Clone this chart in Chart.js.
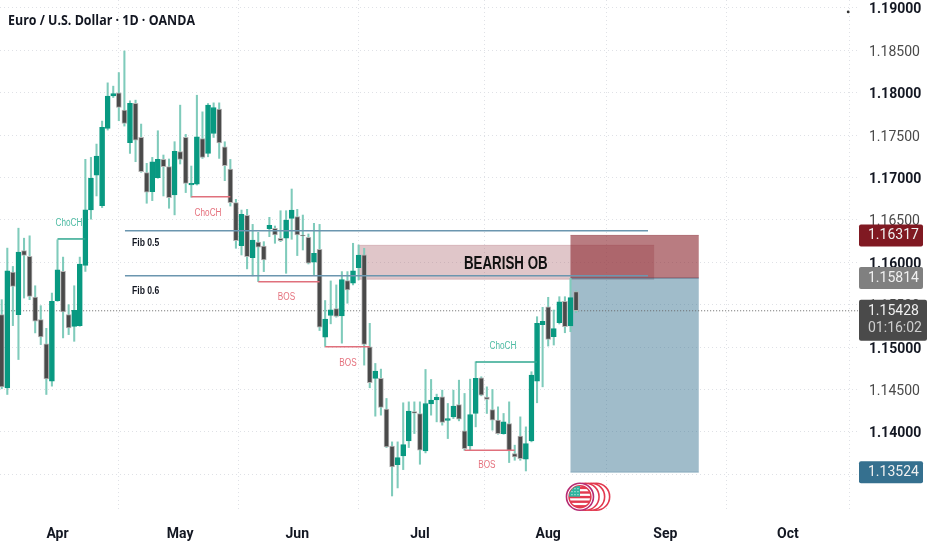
<!DOCTYPE html>
<html>
<head>
<meta charset="utf-8">
<title>EURUSD 1D</title>
<style>
  html, body { margin: 0; padding: 0; background: #fff; }
  canvas { display: block; }
</style>
<script src="https://cdn.jsdelivr.net/npm/chart.js@4/dist/chart.umd.min.js"></script>
</head>
<body>
<canvas id="chart" width="932" height="550"></canvas>
<script>
// ============================
// Data
// bar day: 0 = 1 Apr, first bar sits 10 sessions earlier
// ============================
const FIRST_BAR = -10;

const opens = [
  1.15382, 1.14519, 1.15884, 1.15382, 1.16139, 1.16069, 1.15590, 1.15323, 1.15037, 1.14598,
  1.15547, 1.15892, 1.15382, 1.15245, 1.15253, 1.15963, 1.16618, 1.17026, 1.16669, 1.17579,
  1.17963, 1.17998, 1.17794, 1.17410, 1.17873, 1.17473, 1.17057, 1.16833, 1.16998, 1.17214,
  1.17128, 1.16794, 1.17304, 1.17473, 1.16912, 1.16922, 1.17460, 1.17283, 1.17519, 1.17806,
  1.17362, 1.17099, 1.16703, 1.16196, 1.16553, 1.16055, 1.16239, 1.16192, 1.16396, 1.16400,
  1.16283, 1.16283, 1.16518, 1.16538, 1.16322, 1.16294, 1.16000, 1.16153, 1.15117, 1.15372,
  1.15454, 1.15368, 1.15784, 1.15753, 1.15937, 1.16087, 1.15004, 1.14630, 1.14630, 1.14268,
  1.13831, 1.13614, 1.13717, 1.13894, 1.14240, 1.14217, 1.13776, 1.14331, 1.14378, 1.14413,
  1.14134, 1.14177, 1.14323, 1.14012, 1.13835, 1.14217, 1.14638, 1.14409, 1.14264, 1.14138,
  1.13980, 1.14098, 1.13744, 1.13949, 1.13677, 1.13894, 1.14598, 1.15264, 1.15476, 1.15122,
  1.15287, 1.15539, 1.15248, 1.15654
];
const highs = [
  1.15559, 1.16167, 1.15951, 1.16402, 1.16284, 1.16312, 1.15723, 1.15488, 1.15221, 1.15637,
  1.16265, 1.16061, 1.15500, 1.15723, 1.16061, 1.17214, 1.17237, 1.17394, 1.17665, 1.18116,
  1.18077, 1.18237, 1.18492, 1.17904, 1.17912, 1.17630, 1.17167, 1.17237, 1.17551, 1.17265,
  1.17218, 1.17422, 1.17853, 1.17508, 1.17135, 1.17970, 1.17774, 1.17872, 1.17880, 1.17880,
  1.17421, 1.17213, 1.16742, 1.16616, 1.16624, 1.16447, 1.16353, 1.16243, 1.16530, 1.16428,
  1.16608, 1.16608, 1.16864, 1.16624, 1.16557, 1.16334, 1.16459, 1.16447, 1.15549, 1.15780,
  1.15733, 1.15890, 1.15890, 1.16224, 1.16204, 1.16165, 1.15280, 1.14807, 1.14740, 1.14394,
  1.13882, 1.13882, 1.14343, 1.14354, 1.14354, 1.14354, 1.14736, 1.14618, 1.14445, 1.14492,
  1.14335, 1.14492, 1.14610, 1.14453, 1.14622, 1.14827, 1.14650, 1.14531, 1.14500, 1.14295,
  1.14217, 1.14354, 1.13843, 1.14177, 1.14059, 1.14709, 1.15358, 1.15469, 1.15587, 1.15437,
  1.15594, 1.15594, 1.15811, 1.15665
];
const lows = [
  1.14508, 1.14441, 1.15253, 1.14853, 1.15578, 1.15559, 1.15167, 1.15029, 1.14441, 1.14539,
  1.15539, 1.15108, 1.15147, 1.15068, 1.15245, 1.15892, 1.16508, 1.16782, 1.16645, 1.17559,
  1.17943, 1.17669, 1.17606, 1.17284, 1.17186, 1.17061, 1.16696, 1.16727, 1.16990, 1.16782,
  1.16637, 1.16559, 1.17159, 1.16822, 1.16767, 1.16911, 1.17225, 1.17244, 1.17472, 1.17225,
  1.16962, 1.16663, 1.16165, 1.16086, 1.15922, 1.15839, 1.15772, 1.15890, 1.16302, 1.16224,
  1.16243, 1.15870, 1.16271, 1.16079, 1.16145, 1.15980, 1.15851, 1.15195, 1.15007, 1.15274,
  1.15352, 1.15046, 1.15517, 1.15733, 1.15792, 1.14787, 1.14520, 1.14185, 1.14197, 1.13815,
  1.13244, 1.13339, 1.13555, 1.13815, 1.13980, 1.13618, 1.13752, 1.14197, 1.14118, 1.14079,
  1.13921, 1.14157, 1.14130, 1.13783, 1.13783, 1.14059, 1.14425, 1.14217, 1.14020, 1.13972,
  1.13972, 1.13638, 1.13665, 1.13665, 1.13539, 1.13882, 1.14343, 1.14531, 1.15012, 1.15024,
  1.15272, 1.15169, 1.15181, 1.15406
];
const closes = [
  1.14531, 1.15900, 1.15716, 1.16120, 1.16080, 1.15598, 1.15304, 1.15119, 1.14625, 1.15539,
  1.15912, 1.15414, 1.15225, 1.15433, 1.15978, 1.16618, 1.16990, 1.17253, 1.17590, 1.17959,
  1.17990, 1.17826, 1.17637, 1.17873, 1.17441, 1.17069, 1.16826, 1.17186, 1.17214, 1.17128,
  1.16763, 1.17308, 1.17214, 1.16931, 1.16931, 1.17480, 1.17236, 1.17853, 1.17825, 1.17409,
  1.17138, 1.16703, 1.16255, 1.16565, 1.16067, 1.16263, 1.16177, 1.16027, 1.16436, 1.16322,
  1.16255, 1.16498, 1.16616, 1.16322, 1.16310, 1.15988, 1.16106, 1.15235, 1.15329, 1.15439,
  1.15360, 1.15796, 1.15674, 1.15898, 1.16086, 1.15031, 1.14579, 1.14717, 1.14287, 1.13823,
  1.13587, 1.13697, 1.13850, 1.14244, 1.14220, 1.13783, 1.14335, 1.14374, 1.14406, 1.14110,
  1.14157, 1.14303, 1.14150, 1.13803, 1.14205, 1.14630, 1.14433, 1.14382, 1.14138, 1.13980,
  1.14118, 1.13776, 1.13705, 1.13685, 1.13862, 1.14669, 1.15280, 1.15303, 1.15091, 1.15217,
  1.15535, 1.15240, 1.15583, 1.15428
];

const monthDays = [0, 22, 43, 65, 88, 109, 131];
const monthLabels = ["Apr", "May", "Jun", "Jul", "Aug", "Sep", "Oct"];
const priceTicks = [1.135, 1.14, 1.145, 1.15, 1.155, 1.16, 1.165, 1.17, 1.175, 1.18, 1.185, 1.19];

// [from bar, to bar, price]
const fibLevels = [[12.1, 105.9, 1.16373], [12.1, 105.9, 1.15842]];
const chochLevels = [[0, 5, 1.16275], [75, 86, 1.14824]];
const redLevels = [[24, 31, 1.16774], [36, 47, 1.15771], [48, 56, 1.15005], [73, 82, 1.13783]];

// [from bar, to bar, top price, bottom price]
const obBox = [54, 107, 1.16200, 1.15800];
const riskBox = [92, 115, 1.16317, 1.15814];
const rewardBox = [92, 115, 1.15814, 1.13524];

const LAST_PRICE = 1.15428;
const STOP_PRICE = 1.16317;
const ENTRY_PRICE = 1.15814;
const TARGET_PRICE = 1.13524;
const COUNTDOWN = "01:16:02";

const eventDays = [96.6, 95.7, 94.7, 93.7];
const markerPoint = [141.8, 1.18952];

// [text, bar, price]
const greenNotes = [["ChoCH", 2.06, 1.16463], ["ChoCH", 79.9, 1.15013]];
const redNotes = [["ChoCH", 27, 1.16581], ["BOS", 41.07, 1.15591], ["BOS", 52.1, 1.14812], ["BOS", 77, 1.13601]];
const fibNotes = [["Fib 0.5", 13.36, 1.16228], ["Fib 0.6", 13.36, 1.15665]];
const obNote = [["BEARISH OB", 80.4, 1.1598]];

// ============================
// Settings
// ============================
const TITLE = "Euro / U.S. Dollar · 1D · OANDA";
const UP = "#089981";
const DOWN = "#4a4a4a";
const DOWN_EDGE = "#b4b4b4";
const WICK = "#7fcbbb";
const NOTE_FONT = "'Liberation Sans', sans-serif";
const PRICE_FONT = "Roboto, sans-serif";
const NARROW = 0.82; // the labels in the picture are squeezed, no narrow font is installed
const NARROWER = 0.74;

// ============================
// Dataset helpers
// ============================
function barDay(i) {
    return FIRST_BAR + i;
}

function segments(levels, color, width) {
    return levels.map((lv) => ({
        type: "line",
        data: [{ x: lv[0], y: lv[2] }, { x: lv[1], y: lv[2] }],
        borderColor: color,
        borderWidth: width,
        pointRadius: 0,
        order: 1
    }));
}

function isMajorTick(c) {
    return !!c.tick && Math.round(c.tick.value * 1000) % 10 === 0;
}

const wickData = highs.map((h, i) => ({ x: barDay(i), y: [lows[i], h] }));
const bodyData = opens.map((o, i) => ({ x: barDay(i), y: [o, closes[i]] }));
const isUp = opens.map((o, i) => closes[i] >= o);

// ============================
// Overlay drawing (boxes, notes, price tags, event icons)
// ============================
function drawBox(ctx, x, y, box, fill, edge) {
    const left = x.getPixelForValue(box[0]);
    const right = x.getPixelForValue(box[1]);
    const top = y.getPixelForValue(box[2]);
    const bottom = y.getPixelForValue(box[3]);
    ctx.fillStyle = fill;
    ctx.fillRect(left, top, right - left, bottom - top);
    if (edge) {
        ctx.strokeStyle = edge;
        ctx.lineWidth = 1;
        ctx.beginPath();
        ctx.moveTo(left, top);
        ctx.lineTo(right, top);
        ctx.moveTo(left, bottom);
        ctx.lineTo(right, bottom);
        ctx.stroke();
    }
}

function drawNotes(ctx, x, y, notes, font, color, squeeze) {
    ctx.font = font;
    ctx.fillStyle = color;
    ctx.textBaseline = "middle";
    for (const n of notes) {
        const w = ctx.measureText(n[0]).width * (squeeze || NARROW);
        ctx.fillText(n[0], x.getPixelForValue(n[1]), y.getPixelForValue(n[2]), w);
    }
}

function drawTag(ctx, y, price, fill, height, width) {
    const cy = y.getPixelForValue(price);
    ctx.fillStyle = fill;
    ctx.beginPath();
    ctx.roundRect(859, cy - 11, width || 64, height || 22, 2);
    ctx.fill();
    ctx.fillStyle = "#f0f0f0";
    ctx.font = "14px " + PRICE_FONT;
    ctx.textAlign = "left";
    ctx.textBaseline = "middle";
    ctx.fillText(price.toFixed(5), 868, cy + 0.5);
}

function drawEvents(ctx, x, cy) {
    eventDays.forEach((day, i) => {
        const cx = x.getPixelForValue(day);
        const last = i === eventDays.length - 1;
        ctx.beginPath();
        ctx.arc(cx, cy, 13.5, 0, Math.PI * 2);
        ctx.fillStyle = "#fff";
        ctx.fill();
        ctx.lineWidth = 1.6;
        ctx.strokeStyle = last ? "#b62a72" : "#e2394f";
        ctx.stroke();
        if (!last) return;

        ctx.save();
        ctx.beginPath();
        ctx.arc(cx, cy, 11, 0, Math.PI * 2);
        ctx.lineWidth = 1.4;
        ctx.strokeStyle = "#e2394f";
        ctx.stroke();
        ctx.clip();
        ctx.fillStyle = "#e2394f";
        for (let s = 0; s < 5; s++) {
            ctx.fillRect(cx - 11, cy - 10 + s * 4.6, 22, 2.4);
        }
        ctx.fillStyle = "#2fb5a0";
        ctx.fillRect(cx - 11, cy - 11, 11, 11);
        ctx.fillStyle = "#fff";
        for (let r = 0; r < 3; r++) {
            for (let c = 0; c < 3; c++) {
                ctx.fillRect(cx - 8.5 + c * 3, cy - 8.5 + r * 3, 1, 1);
            }
        }
        ctx.restore();
    });
}

const overlay = {
    id: "overlay",
    beforeDatasetsDraw(chart) {
        const { ctx, scales } = chart;
        ctx.save();
        drawBox(ctx, scales.x, scales.y, obBox, "rgba(178,112,120,.40)", "rgba(178,112,120,.35)");
        drawBox(ctx, scales.x, scales.y, riskBox, "rgba(142,44,52,.62)", "rgba(128,25,34,.45)");
        drawBox(ctx, scales.x, scales.y, rewardBox, "rgba(53,112,143,.47)", "rgba(53,112,143,.35)");
        ctx.restore();
    },
    afterDraw(chart) {
        const { ctx, scales } = chart;
        const x = scales.x;
        const y = scales.y;
        ctx.save();

        ctx.textAlign = "center";
        drawNotes(ctx, x, y, greenNotes, "10px " + NOTE_FONT, "#4dbba3");
        drawNotes(ctx, x, y, redNotes, "10px " + NOTE_FONT, "#e5727e");
        ctx.textAlign = "left";
        drawNotes(ctx, x, y, fibNotes, "bold 10.5px " + NOTE_FONT, "#131722");
        ctx.textAlign = "center";
        drawNotes(ctx, x, y, obNote, "bold 18px " + NOTE_FONT, "#111", NARROWER);

        drawEvents(ctx, x, 496.7);

        // title
        ctx.textAlign = "left";
        ctx.textBaseline = "middle";
        ctx.font = "bold 15px 'Open Sans', sans-serif";
        ctx.fillStyle = "#131722";
        ctx.fillText(TITLE, 8, 21, 187);

        // price tags on the axis
        drawTag(ctx, y, STOP_PRICE, "#801922");
        drawTag(ctx, y, ENTRY_PRICE, "#808080");
        drawTag(ctx, y, TARGET_PRICE, "#35708f");
        drawTag(ctx, y, LAST_PRICE, "#4a4a4a", 41, 68);
        ctx.font = "14px " + PRICE_FONT;
        ctx.fillStyle = "#cfcfcf";
        ctx.fillText(COUNTDOWN, 868, y.getPixelForValue(LAST_PRICE) + 18);

        ctx.restore();
    }
};

// ============================
// Chart
// ============================
new Chart(document.getElementById("chart").getContext("2d"), {
    data: {
        datasets: [
            {
                type: "line",
                data: [{ x: -11, y: LAST_PRICE }, { x: 144, y: LAST_PRICE }],
                borderColor: "#666",
                borderWidth: 1,
                borderDash: [1, 2],
                pointRadius: 0,
                order: 5
            },
            ...segments(fibLevels, "#6b96af", 1.5),
            ...segments(chochLevels, "#2fa78f", 1.5),
            ...segments(redLevels, "#e0707c", 1.5),
            {
                type: "line",
                data: [{ x: markerPoint[0], y: markerPoint[1] }],
                pointRadius: 1.4,
                pointBackgroundColor: "#333",
                pointBorderWidth: 0,
                showLine: false,
                order: 1
            },
            {
                type: "bar",
                data: bodyData,
                grouped: false,
                barThickness: 5,
                backgroundColor: isUp.map((u) => (u ? UP : DOWN)),
                borderColor: isUp.map((u) => (u ? UP : DOWN_EDGE)),
                borderWidth: 1,
                borderSkipped: false,
                order: 2
            },
            {
                type: "bar",
                data: wickData,
                grouped: false,
                barThickness: 1.4,
                backgroundColor: WICK,
                borderWidth: 0,
                order: 3
            }
        ]
    },
    options: {
        responsive: false,
        animation: false,
        layout: { padding: 0, autoPadding: false },
        plugins: {
            legend: { display: false },
            tooltip: { enabled: false }
        },
        scales: {
            x: {
                type: "linear",
                offset: false,
                min: -10.31,
                max: 143.56,
                grid: { color: "#dfe1e6", drawTicks: false },
                border: { display: false, dash: [1, 3] },
                afterBuildTicks(scale) {
                    scale.ticks = monthDays.map((v) => ({ value: v }));
                },
                afterFit(scale) {
                    scale.height = 38;
                    scale.paddingLeft = 0;
                    scale.paddingRight = 0;
                },
                ticks: {
                    autoSkip: false,
                    maxRotation: 0,
                    padding: 14,
                    color: "#131722",
                    font: { family: PRICE_FONT, size: 14, weight: "bold" },
                    callback(v) {
                        return monthLabels[monthDays.indexOf(v)];
                    }
                }
            },
            y: {
                position: "right",
                min: 1.13055,
                max: 1.19093,
                grid: { color: "#dfe1e6", drawTicks: false },
                border: { display: false, dash: [1, 3] },
                afterBuildTicks(scale) {
                    scale.ticks = priceTicks.map((v) => ({ value: v }));
                },
                afterFit(scale) {
                    scale.width = 74;
                    scale.paddingTop = 0;
                    scale.paddingBottom = 0;
                },
                ticks: {
                    padding: 11,
                    labelOffset: 2,
                    color(c) {
                        return isMajorTick(c) ? "#131722" : "#4a4a4a";
                    },
                    font(c) {
                        return { family: PRICE_FONT, size: 14, weight: isMajorTick(c) ? "bold" : "normal" };
                    },
                    callback(v) {
                        return v.toFixed(5);
                    }
                }
            }
        }
    },
    plugins: [overlay]
});
</script>
</body>
</html>
